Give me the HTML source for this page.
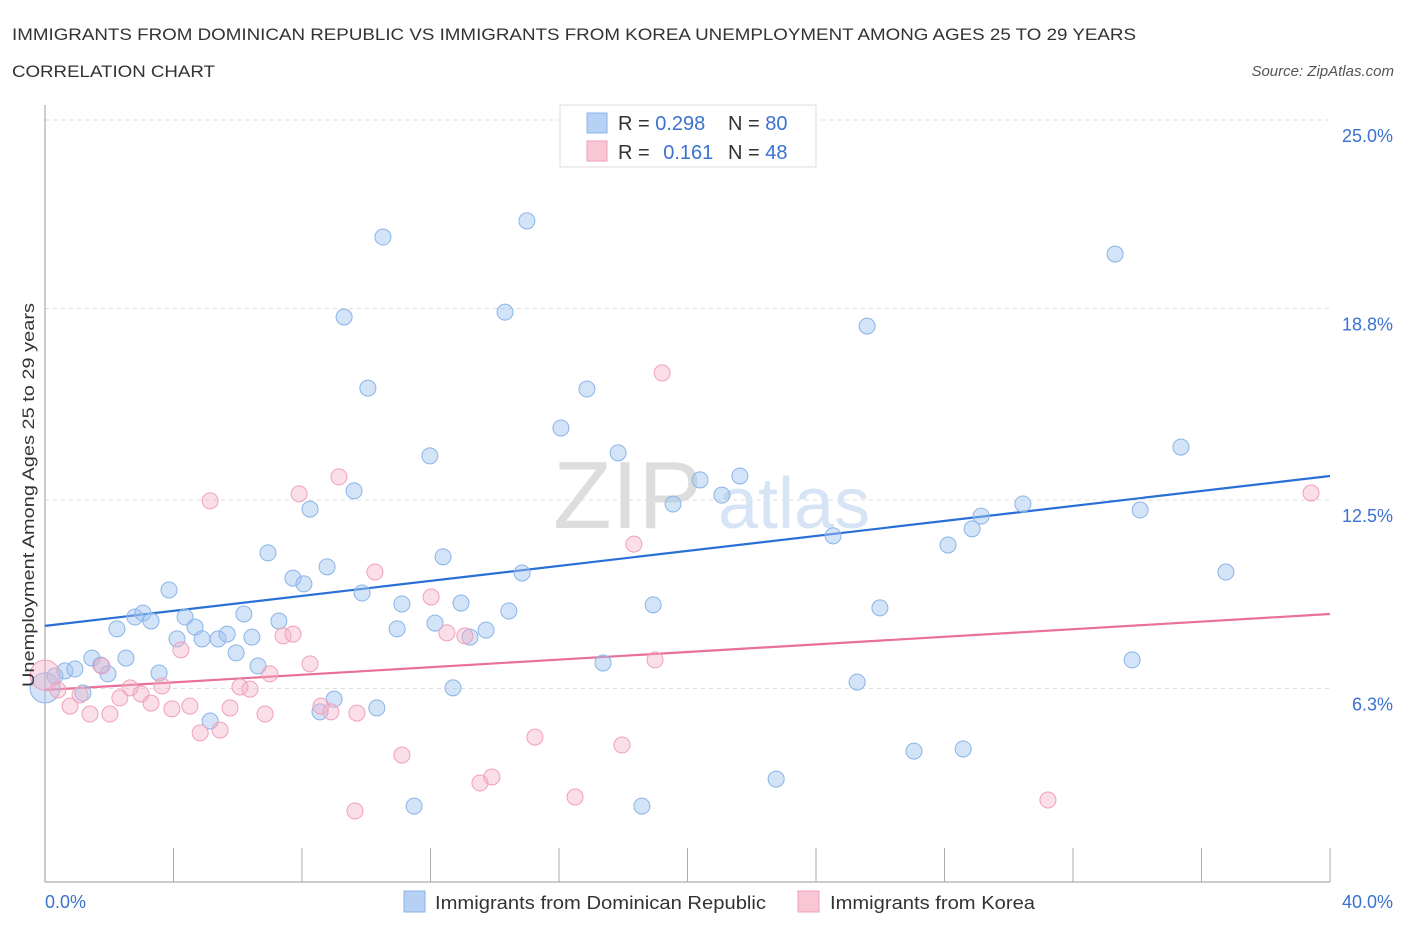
<!DOCTYPE html>
<html><head><meta charset="utf-8"><style>
body{margin:0;background:#fff;font-family:"Liberation Sans",sans-serif;}
svg text{font-family:"Liberation Sans",sans-serif;}
</style></head><body>
<svg id="chart" width="1406" height="930" xmlns="http://www.w3.org/2000/svg">
<text x="12" y="40" font-size="17" fill="#333" textLength="1124" lengthAdjust="spacingAndGlyphs">IMMIGRANTS FROM DOMINICAN REPUBLIC VS IMMIGRANTS FROM KOREA UNEMPLOYMENT AMONG AGES 25 TO 29 YEARS</text>
<text x="12" y="77" font-size="17" fill="#333" textLength="203" lengthAdjust="spacingAndGlyphs">CORRELATION CHART</text>
<text x="1394" y="76" font-size="15" fill="#555" font-style="italic" text-anchor="end">Source: ZipAtlas.com</text>
<g id="grid"></g>
<text x="553" y="528" font-size="96" font-family="Liberation Serif" fill="#ddd">ZIP</text>
<text x="718" y="528" font-size="72" fill="#d6e4f5">atlas</text>
<g id="lines"></g>
<g id="points"></g>
<text transform="translate(34,495) rotate(-90)" font-size="17" fill="#333" text-anchor="middle" textLength="384" lengthAdjust="spacingAndGlyphs">Unemployment Among Ages 25 to 29 years</text>
<g>
<rect x="560" y="105" width="256" height="62" fill="#fff" stroke="#ddd"/>
<rect x="587" y="113" width="20" height="20" fill="#b7d1f5" stroke="#8ab4e8"/>
<rect x="587" y="141" width="20" height="20" fill="#f9c6d5" stroke="#f0a0b8"/>
<text x="618" y="130" font-size="20" fill="#333">R = <tspan fill="#3a72d0">0.298</tspan></text>
<text x="728" y="130" font-size="20" fill="#333">N = <tspan fill="#3a72d0">80</tspan></text>
<text x="618" y="159" font-size="20" fill="#333">R = <tspan fill="#3a72d0" dx="8">0.161</tspan></text>
<text x="728" y="159" font-size="20" fill="#333">N = <tspan fill="#3a72d0">48</tspan></text>
</g>
<g>
<rect x="404" y="891" width="21" height="21" fill="#b7d1f5" stroke="#8ab4e8"/>
<text x="435" y="909" font-size="18" fill="#333" textLength="331" lengthAdjust="spacingAndGlyphs">Immigrants from Dominican Republic</text>
<rect x="798" y="891" width="21" height="21" fill="#f9c6d5" stroke="#f0a0b8"/>
<text x="830" y="909" font-size="18" fill="#333" textLength="205" lengthAdjust="spacingAndGlyphs">Immigrants from Korea</text>
</g>
</svg>
<script>
const yTicks=[25.0,18.8,12.5,6.3];
const yTickLabels=["25.0%","18.8%","12.5%","6.3%"];
const xTickLabels=["0.0%","40.0%"];
const blueX=[0.0,0.31,0.62,0.93,1.18,1.46,1.74,1.96,2.24,2.52,2.80,3.05,3.30,3.55,3.86,4.11,4.36,4.67,4.89,5.14,5.39,5.67,5.95,6.19,6.44,6.63,6.94,7.28,7.72,8.06,8.25,8.56,8.78,9.00,9.31,9.62,9.87,10.05,10.33,10.52,10.96,11.11,11.49,11.98,12.14,12.39,12.70,12.95,13.23,13.73,14.32,14.44,14.85,15.00,16.06,16.87,17.37,17.84,18.58,18.93,19.55,20.39,21.07,21.63,22.76,24.53,25.28,25.59,25.99,27.05,28.11,28.58,28.86,29.14,30.44,33.31,33.84,34.09,35.36,36.76];
const blueY=[6.32,6.71,6.88,6.94,6.15,7.30,7.07,6.78,8.26,7.30,8.65,8.78,8.52,6.81,9.54,7.93,8.65,8.32,7.93,5.23,7.93,8.09,7.47,8.75,7.99,7.04,10.76,8.52,9.93,9.74,12.20,5.53,10.30,5.95,18.52,12.80,9.44,16.18,5.66,21.15,8.26,9.08,2.43,13.95,8.45,10.63,6.32,9.11,7.99,8.22,18.68,8.85,10.10,21.68,14.87,16.15,7.14,14.05,2.43,9.05,12.37,13.16,12.66,13.29,3.32,11.32,6.51,18.22,8.95,4.24,11.02,4.31,11.55,11.97,12.37,20.59,7.24,12.17,14.24,10.13];
const pinkX=[0.0,0.40,0.78,1.09,1.40,1.77,2.02,2.33,2.65,2.99,3.30,3.64,3.95,4.23,4.51,4.83,5.14,5.45,5.76,6.07,6.38,6.85,7.00,7.41,7.72,7.91,8.25,8.59,8.90,9.15,9.65,9.71,10.27,11.11,12.02,12.51,13.07,13.54,13.91,15.25,16.50,17.96,18.33,18.99,19.21,31.22,39.41];
const pinkY=[6.74,6.25,5.72,6.09,5.46,7.04,5.46,5.99,6.32,6.12,5.82,6.38,5.63,7.57,5.72,4.84,12.47,4.93,5.66,6.35,6.28,5.46,6.78,8.03,8.09,12.70,7.11,5.72,5.53,13.26,2.27,5.49,10.13,4.11,9.31,8.13,8.03,3.19,3.39,4.70,2.73,4.44,11.05,7.24,16.68,2.63,12.73];
const blueTrend=[8.36,13.29];
const pinkTrend=[6.25,8.75];
const X0=45,X1=1330,Y0=880;
const xs=v=>X0+(v/40)*(X1-X0);
const ys=v=>Y0-v*30.4;
const NS="http://www.w3.org/2000/svg";
function mk(t,a,p){const e=document.createElementNS(NS,t);for(const k in a)e.setAttribute(k,a[k]);p.appendChild(e);return e;}
const grid=document.getElementById('grid');
yTicks.forEach((t,i)=>{
 const l=mk('line',{x1:X0,x2:X1,y1:ys(t),y2:ys(t),stroke:'#ddd','stroke-dasharray':'4,4'},grid);
 
 
 const tx=mk('text',{x:1393,y:ys(t)+22,'font-size':18,fill:'#3a72d0','text-anchor':'end'},grid);
 tx.textContent=yTickLabels[i];
 
 
});
const ax=mk('line',{x1:X0,x2:X0,y1:105,y2:882,stroke:'#999'},grid);


const bx=mk('line',{x1:X0,x2:X1,y1:882,y2:882,stroke:'#999'},grid);


for(let i=0;i<=10;i++){
 const tk=mk('line',{x1:xs(i*4),x2:xs(i*4),y1:i==0?882:848,y2:882,stroke:'#aaa'},grid);
 
 
}
[[0,'start',45],[40,'end',1393]].forEach((d,i)=>{
 const tx=mk('text',{x:d[2],y:908,'font-size':18,fill:'#3a72d0','text-anchor':d[1]},grid);
 tx.textContent=xTickLabels[i];
 
 
});
const pts=document.getElementById('points');
function series(X,Y,fill,stroke,name){
 X.forEach((x,i)=>{
  const c=mk('circle',{cx:xs(x),cy:ys(Y[i]),r:x===0?15:8,fill:fill,stroke:stroke,'stroke-width':1},pts);
  
  
 });
}
series(blueX,blueY,'rgba(160,195,240,0.45)','#8ab4e8','point-dominican');
series(pinkX,pinkY,'rgba(245,175,198,0.4)','#f0a0b8','point-korea');
const lines=document.getElementById('lines');
const bl=mk('line',{x1:xs(0),y1:ys(blueTrend[0]),x2:xs(40),y2:ys(blueTrend[1]),stroke:'#2a6fd6','stroke-width':2.2},lines);


const pl=mk('line',{x1:xs(0),y1:ys(pinkTrend[0]),x2:xs(40),y2:ys(pinkTrend[1]),stroke:'#e8709a','stroke-width':2.2},lines);


</script>
</body></html>
